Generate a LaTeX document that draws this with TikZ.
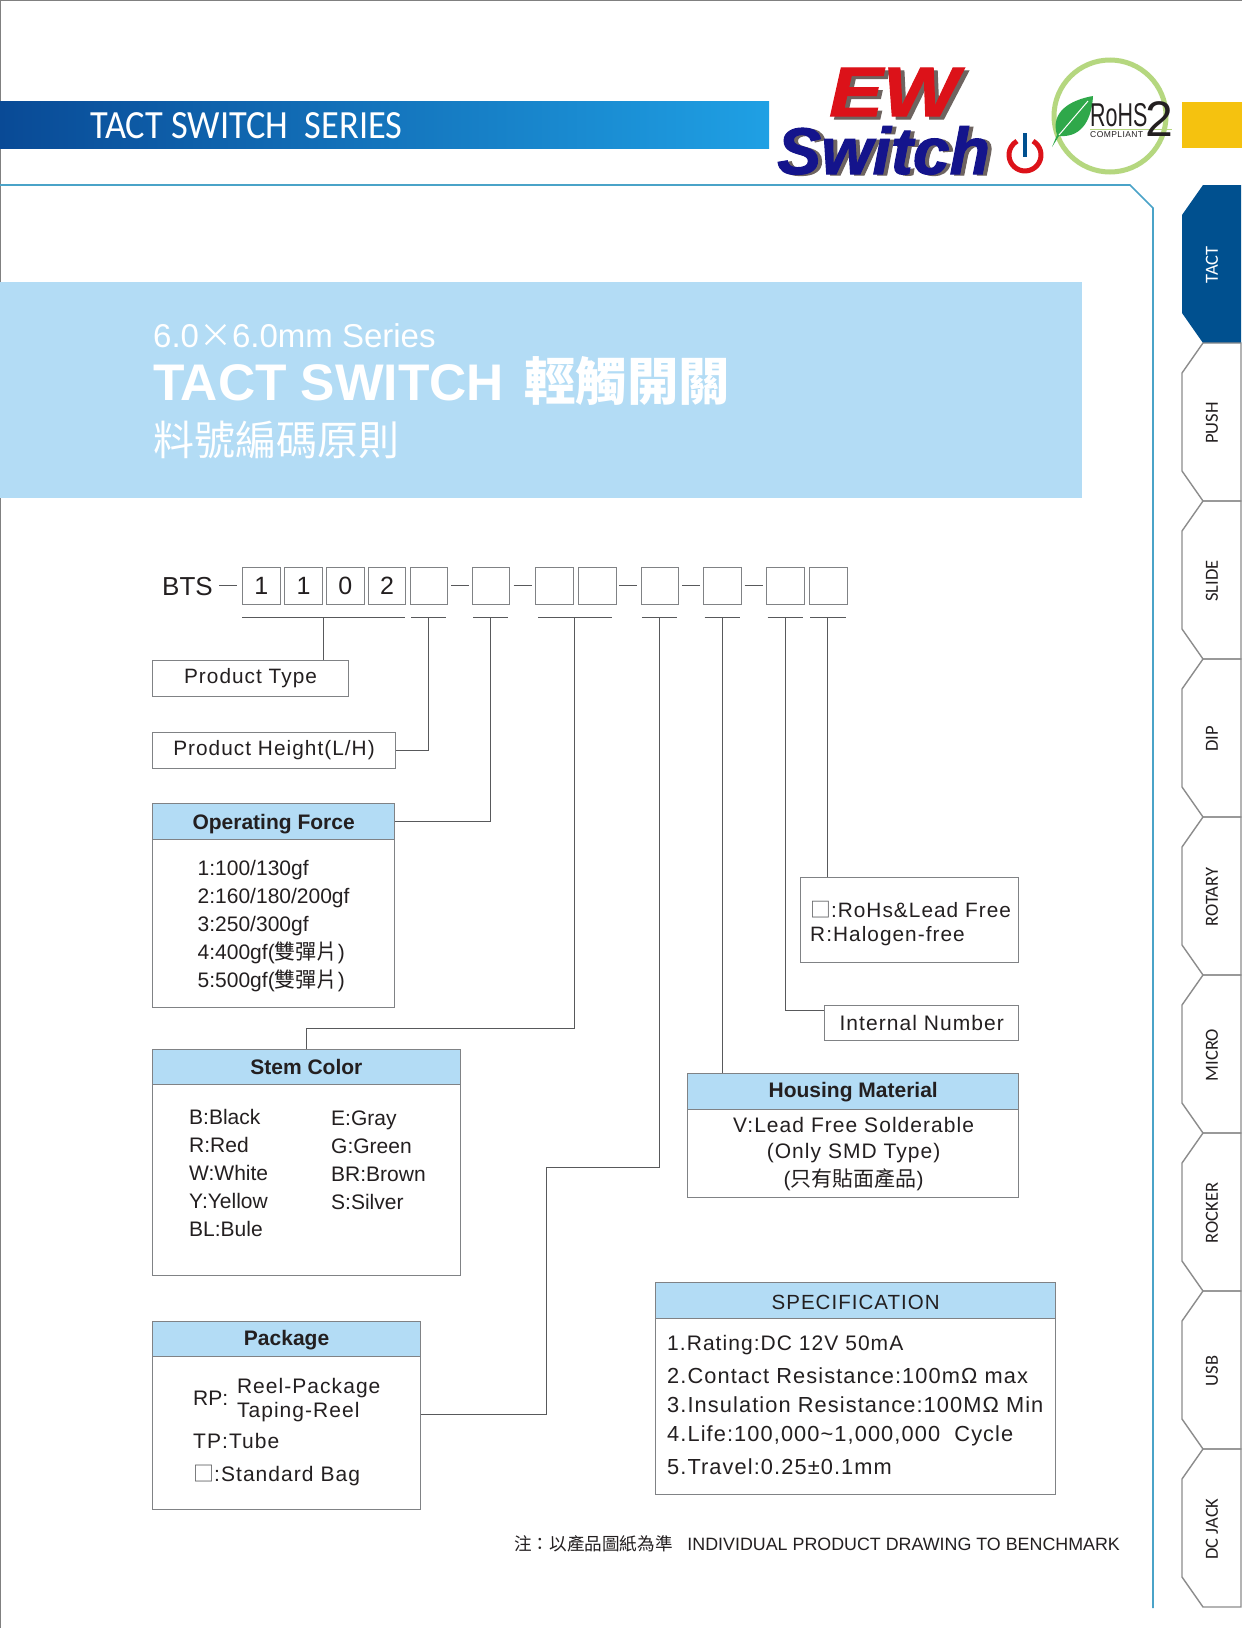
\documentclass[tikz,border=0pt]{standalone}
\usepackage{fontspec}
\setmainfont{Liberation Sans}
\newfontfamily\cjk{Noto Sans CJK TC}
\newfontfamily\wide[LetterSpace=5]{Liberation Sans}
\newfontfamily\tabfont{Carlito}
\newfontfamily\logofont[FakeBold=1.5]{Liberation Sans Bold Italic}
\newcommand{\setfs}[1]{\fontsize{#1}{#1}\selectfont}
\definecolor{ink}{HTML}{231F20}
\definecolor{wirec}{HTML}{58595B}
\definecolor{edgec}{HTML}{808285}
\definecolor{skyc}{HTML}{B3DCF5}
\definecolor{tealc}{HTML}{4AA3C8}
\definecolor{navyc}{HTML}{00508F}
\definecolor{tabc}{HTML}{8C8C8C}
\definecolor{leafc}{HTML}{2FA84A}
\definecolor{ringc}{HTML}{B5D77F}
\definecolor{barl}{HTML}{094A96}
\definecolor{barm}{HTML}{0878C8}
\definecolor{barr}{HTML}{1FA0E4}
\definecolor{yellowc}{HTML}{F5C20F}
\definecolor{redc}{HTML}{DC1219}
\definecolor{bluec}{HTML}{14148C}
\definecolor{shadowc}{HTML}{6E6460}
\tikzset{
  wire/.style={draw=wirec,line width=0.9pt},
  partbox/.style={draw=edgec,line width=1pt,minimum width=37.7pt,minimum height=37.5pt,inner sep=0pt,text=ink,font=\setfs{25}},
  labelbox/.style={draw=edgec,line width=1pt,inner sep=0pt,text=ink,font=\wide\setfs{20.8}},
  headbox/.style={draw=edgec,line width=1pt,fill=skyc,inner sep=0pt,text=ink,text height=18pt,text depth=2pt,font=\bfseries\setfs{21}},
  bodybox/.style={draw=edgec,line width=1pt,inner sep=0pt},
  item/.style={anchor=base west,inner sep=0pt,text=ink,font=\setfs{21}},
  wideitem/.style={item,font=\wide\setfs{21}},
  logotext/.style={anchor=base west,inner sep=0pt,font=\logofont\setfs{#1}},
  tablabel/.style={rotate=90,inner sep=0pt,font=\tabfont\setfs{18.5}},
}
\begin{document}
\begin{tikzpicture}[x=1pt,y=-1pt]
\useasboundingbox (0,0) rectangle (1242,1628);
\fill[white] (0,0) rectangle (1242,1628);
\draw[gray,line width=1pt] (0.5,1628)--(0.5,0.5)--(1242,0.5);
\shade[left color=barl,middle color=barm,right color=barr] (0,101) rectangle (769,148);
\fill[yellowc] (1182,102) rectangle (1242,148);
\node[anchor=west,inner sep=0pt,text=white,xscale=0.91,transform shape,font=\tabfont\setfs{40}] (bartitle) at (90,126) {TACT SWITCH\ \ SERIES};
\draw[tealc,line width=1.6pt] (0,185)--(1130,185)--(1153,208)--(1153,1608);
\fill[skyc] (0,282) rectangle (1082,498);
\node[anchor=base west,inner sep=0pt,text=white,font=\setfs{33}] (series) at (153,347) {6.0{\cjk ×}6.0mm Series};
\node[anchor=base west,inner sep=0pt,text=white,font=\bfseries\setfs{51.5}] (tact) at (153,400) {TACT SWITCH\hspace{6pt} {\cjk 輕觸開關}};
\node[anchor=base west,inner sep=0pt,text=white,font=\cjk\setfs{41}] (rule) at (153,455) {料號編碼原則};
% logo
\node[logotext=70,text=shadowc,xscale=1.15,transform shape] at (833,119) {EW};
\node[logotext=70,text=redc,xscale=1.15,transform shape] (ew) at (829,116) {EW};
\node[logotext=66,text=shadowc] at (781,175) {Switch};
\node[logotext=66,text=bluec] (logo) at (777,174) {Switch};
\draw[redc,line width=5pt] (1033,141.1) arc[start angle=-60,end angle=240,radius=16];
\draw[navyc,line width=4pt] (1025,133)--(1025,157);
\draw[ringc,line width=5pt] (1110,116) circle (56);
\fill[white] (1085,100) rectangle (1160,136);
\draw[ringc,line width=1pt] (1090,129)--(1172,129);
\fill[leafc] (1052,147)--(1057,135) .. controls (1050,112) and (1070,100) .. (1093,96) .. controls (1092,116) and (1084,138) .. (1059,136) -- cycle;
\draw[white,line width=1pt] (1059,135)--(1088,101);
\node[anchor=base west,inner sep=0pt,text=ink,xscale=0.65,transform shape,font=\setfs{33}] (rohsmark) at (1090,126) {RoHS};
\node[anchor=base west,inner sep=0pt,text=ink,font=\setfs{50}] (two) at (1145,136) {2};
\node[anchor=base west,inner sep=0pt,text=ink,font=\wide\setfs{8.5}] (compliant) at (1090,137) {COMPLIANT};
% tabs
\foreach \t [count=\i from 0] in {TACT,PUSH,SLIDE,DIP,ROTARY,MICRO,ROCKER,USB,DC JACK} {
  \pgfmathsetmacro{\ya}{185+158*\i}
  \ifnum\i=0
    \fill[navyc] (1241,\ya)--(1203,\ya)--(1182,\ya+30)--(1182,\ya+128)--(1203,\ya+158)--(1241,\ya+158)--cycle;
    \node[tablabel,text=white] (tab\i) at (1212,\ya+80) {\t};
  \else
    \draw[tabc,line width=1.4pt] (1241,\ya)--(1203,\ya)--(1182,\ya+30)--(1182,\ya+128)--(1203,\ya+158)--(1241,\ya+158)--cycle;
    \node[tablabel,text=ink] (tab\i) at (1212,\ya+80) {\t};
  \fi
}
% part number
\node[anchor=west,inner sep=0pt,text=ink,font=\setfs{26}] (bts) at (162,587) {BTS};
\foreach \n/\x/\d in {1/242/1,2/284.2/1,3/326/0,4/367.7/2,5/409.5/,6/471.5/,7/534.9/,8/578/,9/640.5/,10/703.4/,11/766.3/,12/809/}
  \node[partbox,anchor=north west] (part\n) at (\x,566.5) {\d};
\foreach \n/\a/\b in {1/219/237.3,2/451.3/468.7,3/513.7/531.6,4/619.3/637.2,5/682.2/700,6/744.7/762.6}
  \draw[wire] (\a,585)--(\b,585);
\foreach \n/\a/\b/\m in {0/242/405/323.7,1/411/445.8/428.3,2/473/507.8/490.3,3/538/612/574.8,4/641.8/676.7/659.3,5/704.7/740/722.2,6/767.6/803/785.5,7/810/845.7/827.3} {
  \draw[wire] (\a,617)--(\b,617);
  \coordinate (tap\n) at (\m,617);
}
% boxes
\node[labelbox,minimum width=196pt,minimum height=36pt] (type) at (250.5,678) {Product Type};
\node[labelbox,minimum width=243pt,minimum height=36pt] (height) at (274,750.3) {Product Height(L/H)};
\node[bodybox,minimum width=242pt,minimum height=203.5pt] (force) at (273.6,905.5) {};
\node[headbox,minimum width=242pt,minimum height=35.7pt] (forcehead) at (273.6,821.6) {Operating Force};
\foreach \t [count=\i] in {1:100/130gf,2:160/180/200gf,3:250/300gf,4:400gf({\cjk 雙彈片}),5:500gf({\cjk 雙彈片})}
  \node[item] (forceitem\i) at (197.5,847.5+28*\i) {\t};
\node[bodybox,minimum width=307.3pt,minimum height=226pt] (stem) at (306.4,1162) {};
\node[headbox,minimum width=307.3pt,minimum height=35.2pt] (stemhead) at (306.4,1066.6) {Stem Color};
\foreach \t [count=\i] in {B:Black,R:Red,W:White,Y:Yellow,BL:Bule}
  \node[item] (stema\i) at (189,1096.7+28*\i) {\t};
\foreach \t [count=\i] in {E:Gray,G:Green,BR:Brown,S:Silver}
  \node[item] (stemb\i) at (331,1097+28*\i) {\t};
\node[bodybox,minimum width=268pt,minimum height=188pt] (pack) at (286.6,1415) {};
\node[headbox,minimum width=268pt,minimum height=35pt,text height=15pt] (packhead) at (286.6,1338.5) {Package};
\node[item] (rp) at (193,1405.5) {RP:};
\node[wideitem] (reel) at (236.8,1393.5) {Reel-Package};
\node[wideitem] (taping) at (236.8,1417.5) {Taping-Reel};
\node[wideitem] (tp) at (193,1448) {TP:Tube};
\node[wideitem] (bag) at (193,1481) {{\cjk\color{wirec}□}:Standard Bag};
\node[bodybox,minimum width=218pt,minimum height=85.2pt] (rohs) at (909.8,920.1) {};
\node[wideitem,font=\wide\setfs{20.8}] (rohsa) at (810,917) {{\cjk\color{wirec}□}:RoHs\&Lead Free};
\node[wideitem,font=\wide\setfs{20.8}] (rohsb) at (810,941) {R:Halogen-free};
\node[labelbox,minimum width=194.2pt,minimum height=35.3pt,font=\wide\setfs{21}] (internal) at (921.7,1023) {Internal Number};
\node[bodybox,minimum width=331.3pt,minimum height=123.6pt] (house) at (853.2,1135.6) {};
\node[headbox,minimum width=331.3pt,minimum height=35.2pt,text height=15pt] (househead) at (853.2,1091.4) {Housing Material};
\node[wideitem,anchor=base] (housea) at (853.6,1132.5) {V:Lead Free Solderable};
\node[wideitem,anchor=base] (houseb) at (853.6,1158.5) {(Only SMD Type)};
\node[wideitem,anchor=base] (housec) at (853.6,1186) {({\cjk 只有貼面產品})};
\node[bodybox,minimum width=400.7pt,minimum height=212pt] (spec) at (855.6,1388.5) {};
\node[headbox,minimum width=400.7pt,minimum height=36.4pt,font=\wide\setfs{20.5},text height=18pt,text depth=1pt] (spechead) at (855.6,1300.7) {SPECIFICATION};
\foreach \t/\y/\s [count=\i] in {1.Rating:DC 12V 50mA/1350.5/21,2.Contact Resistance:100mΩ max/1383.5/21.8,3.Insulation Resistance:100MΩ Min/1412.5/21.8,{4.Life:100,000\textasciitilde1,000,000\ \ Cycle}/1441.5/21.8,5.Travel:0.25±0.1mm/1474/21.8}
  \node[wideitem,font=\wide\setfs{\s}] (specitem\i) at (667,\y) {\t};
\node[anchor=west,inner sep=0pt,text=ink,font=\setfs{17.85}] (note) at (514,1544) {{\cjk\setfs{17.6}注：以產品圖紙為準}\ \ \ INDIVIDUAL PRODUCT DRAWING TO BENCHMARK};
% connectors
\coordinate (stembend) at (574.8,1028);
\coordinate (packtap) at (pack.east |- 0,1414.4);
\coordinate (packbend) at (546.3,1167.3);
\coordinate (intertap) at (internal.west |- 0,1010.5);
\draw[wire] (tap0)--(tap0 |- type.north);
\draw[wire] (tap1) |- (height.east);
\draw[wire] (tap2) |- (forcehead.east);
\draw[wire] (stemhead.north) |- (stembend)--(tap3);
\draw[wire] (packtap) -| (packbend) -| (tap4);
\draw[wire] (tap5)--(tap5 |- househead.north);
\draw[wire] (tap6) |- (intertap);
\draw[wire] (tap7)--(tap7 |- rohs.north);
\end{tikzpicture}
\end{document}
